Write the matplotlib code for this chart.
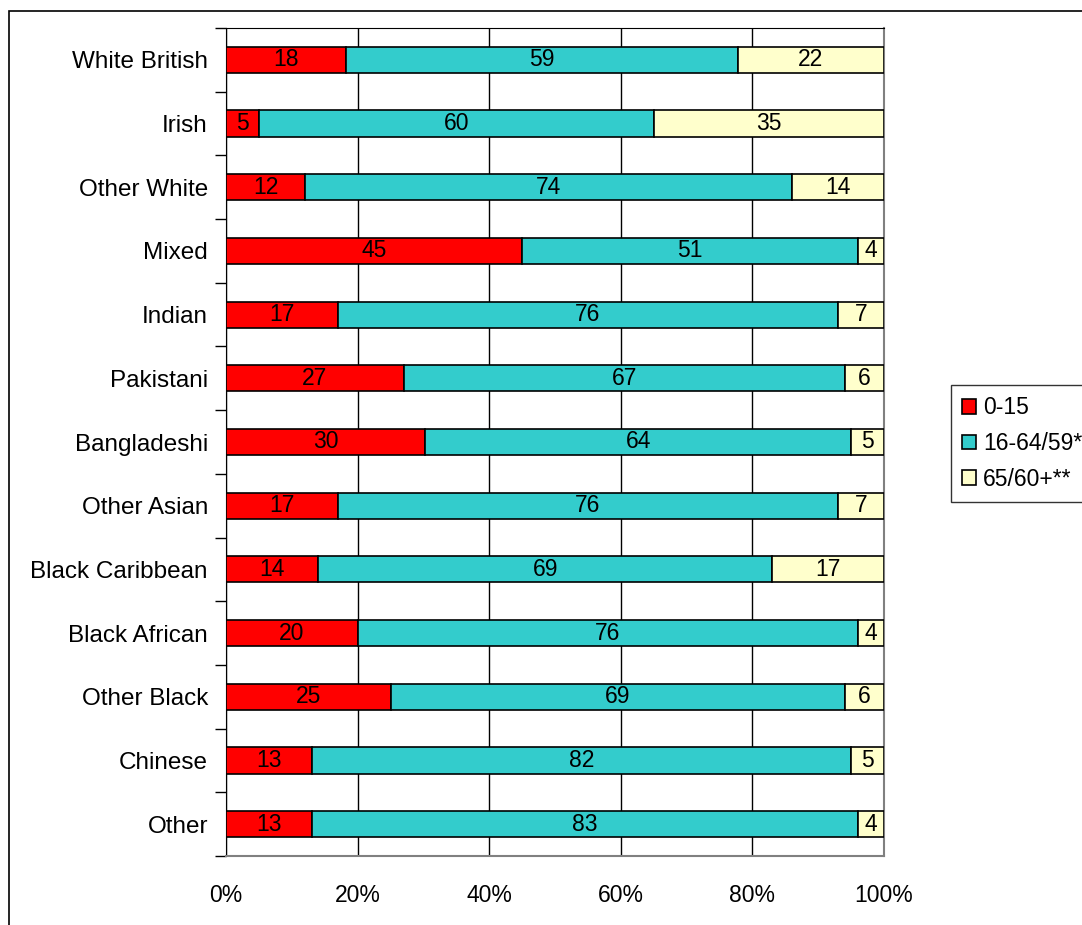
import matplotlib
matplotlib.use('agg')
import matplotlib.pyplot as plt
from matplotlib.patches import Rectangle
import numpy as np

plt.rcParams['font.family'] = ['Liberation Sans', 'DejaVu Sans']

groups = ["White British", "Irish", "Other White", "Mixed", "Indian", "Pakistani",
          "Bangladeshi", "Other Asian", "Black Caribbean", "Black African",
          "Other Black", "Chinese", "Other"]
age_0_15 = [18, 5, 12, 45, 17, 27, 30, 17, 14, 20, 25, 13, 13]
age_16_64 = [59, 60, 74, 51, 76, 67, 64, 76, 69, 76, 69, 82, 83]
age_65 = [22, 35, 14, 4, 7, 6, 5, 7, 17, 4, 6, 5, 4]
series_names = ["0-15", "16-64/59*", "65/60+**"]
colors = ["#FF0000", "#33CCCC", "#FFFFCC"]
xticks = [0, 20, 40, 60, 80, 100]

data = np.array([age_0_15, age_16_64, age_65], dtype=float)
shares = data / data.sum(axis=0) * 100

fig = plt.figure(figsize=(10.82, 9.25), dpi=100)
fig.patches.append(Rectangle((9 / 1082, -0.1), 1.2, 1 - 11 / 925 + 0.1,
                             transform=fig.transFigure, fill=False,
                             edgecolor="black", lw=1.2))
ax = fig.add_axes([226 / 1082, 1 - 856 / 925, 658 / 1082, 828 / 925])

y = np.arange(len(groups))
left = np.zeros(len(groups))
for i in range(3):
    bars = ax.barh(y, shares[i], left=left, height=0.41, color=colors[i],
                   edgecolor="black", lw=1.2, label=series_names[i], zorder=3)
    for j in range(len(groups)):
        ax.text(left[j] + shares[i][j] / 2, y[j], "%d" % data[i][j],
                ha="center", va="center", fontsize=16.5, zorder=4)
    left += shares[i]

ax.set_xlim(0, 100)
ax.set_ylim(len(groups) - 0.5, -0.5)
ax.set_xticks(xticks)
ax.set_xticklabels(["%d%%" % v for v in xticks], fontsize=16.5)
ax.tick_params(axis="x", length=0, pad=20)
ax.set_yticks(y)
ax.set_yticklabels(groups, fontsize=17.5)
ax.tick_params(axis="y", length=0, pad=13)
ax.set_yticks(np.arange(len(groups) + 1) - 0.5, minor=True)
ax.tick_params(axis="y", which="minor", length=8, width=1, color="black")
ax.xaxis.grid(True, color="black", lw=1, zorder=0)
for s in ["left", "top"]:
    ax.spines[s].set_color("black")
for s in ["right", "bottom"]:
    ax.spines[s].set_color("#808080")
    ax.spines[s].set_linewidth(1.5)

leg = ax.legend(loc="upper left", bbox_to_anchor=(951 / 1082, 1 - 385 / 925),
                bbox_transform=fig.transFigure, fontsize=16.5, frameon=True,
                fancybox=False, edgecolor="black", handlelength=0.6,
                handleheight=0.6, handletextpad=0.3, labelspacing=0.55,
                borderpad=0.5, borderaxespad=0)
leg.get_frame().set_linewidth(1)

fig.savefig("out.png", dpi=100)
